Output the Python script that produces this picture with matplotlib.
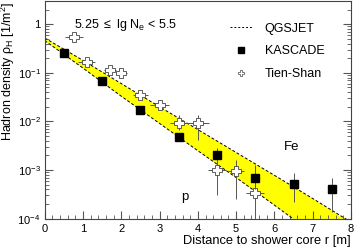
import numpy as np
import matplotlib.pyplot as plt
from matplotlib.ticker import FixedLocator, MultipleLocator, LogLocator, NullFormatter
from matplotlib.lines import Line2D

plt.rcParams['font.family'] = ['Liberation Sans', 'DejaVu Sans']
plt.rcParams['mathtext.fontset'] = 'custom'
plt.rcParams['mathtext.rm'] = 'Liberation Sans'
plt.rcParams['mathtext.it'] = 'Liberation Sans:italic'

# QGSJET band edges
r_model = [0, 1, 2, 3, 4, 5, 6, 7, 8]
rho_fe = [0.52, 0.18, 0.06, 0.02, 0.0068, 0.0023, 0.00078, 0.00026, 8.5e-5]
rho_p = [0.46, 0.125, 0.033, 0.0091, 0.0025, 0.0007, 0.00019, 5e-5, 1.4e-5]

# KASCADE
r_kas = [0.5, 1.5, 2.5, 3.5, 4.5, 5.5, 6.5, 7.5]
rho_kas = [0.25, 0.069, 0.0173, 0.0049, 0.0020, 0.00069, 0.00051, 0.00041]
kas_lo = [0.23, 0.064, 0.016, 0.0045, 0.0018, 0.0004, 0.00022, 0.000135]
kas_hi = [0.27, 0.074, 0.0186, 0.0053, 0.0028, 0.00126, 0.00085, 0.00069]

# Tien-Shan
r_ts = [0.77, 1.1, 1.7, 2.0, 2.5, 3.0, 3.5, 4.0, 4.5, 5.0, 5.5]
rho_ts = [0.55, 0.17, 0.112, 0.10, 0.035, 0.022, 0.0092, 0.0092, 0.001, 0.00095, 0.00033]
ts_lo = [0.52, 0.16, 0.105, 0.094, 0.032, 0.020, 0.0066, 0.0042, 0.0003, 0.00025, 1e-5]
ts_hi = [0.58, 0.18, 0.12, 0.107, 0.038, 0.024, 0.0135, 0.0136, 0.0025, 0.0016, 0.00060]
ts_dr = [0.23, 0.22, 0.15, 0.15, 0.2, 0.24, 0.23, 0.3, 0.24, 0.2, 0.24]

fig = plt.figure(figsize=(3.56, 2.47), dpi=100)
ax = fig.add_axes([0.1256, 0.1146, 0.8604, 0.8814])

ax.fill_between(r_model, rho_p, rho_fe, color='#ffff00', lw=0)
ax.plot(r_model, rho_fe, 'k--', lw=0.7, dashes=(3, 2))
ax.plot(r_model, rho_p, 'k--', lw=0.7, dashes=(3, 2))

ts_err = [np.array(rho_ts) - np.array(ts_lo), np.array(ts_hi) - np.array(rho_ts)]
ax.errorbar(r_ts, rho_ts, yerr=ts_err, xerr=ts_dr, fmt='none', ecolor='#555555',
            elinewidth=0.7, capsize=0)
ax.plot(r_ts, rho_ts, 'P', ms=7, mfc='white', mec='#444444', mew=0.6, ls='none')

kas_err = [np.array(rho_kas) - np.array(kas_lo), np.array(kas_hi) - np.array(rho_kas)]
ax.errorbar(r_kas, rho_kas, yerr=kas_err, fmt='none', ecolor='#555555',
            elinewidth=0.7, capsize=0)
ax.plot(r_kas, rho_kas, 's', ms=5.5, color='black', ls='none')

ax.set_yscale('log')
ax.set_xlim(0, 8)
ax.set_ylim(1e-4, 3)

ax.xaxis.set_major_locator(MultipleLocator(1))
ax.xaxis.set_minor_locator(MultipleLocator(0.2))
ax.yaxis.set_major_locator(FixedLocator([1e-4, 1e-3, 1e-2, 1e-1, 1]))
ax.set_yticklabels(['$10^{-4}$', '$10^{-3}$', '$10^{-2}$', '$10^{-1}$', '1'])
ax.yaxis.set_minor_locator(LogLocator(base=10, subs=np.arange(2, 10)))
ax.yaxis.set_minor_formatter(NullFormatter())
ax.tick_params(which='both', direction='in', right=True, labelsize=8, color='#555555')
ax.tick_params(axis='y', pad=3)
ax.tick_params(which='major', length=6)
ax.tick_params(which='minor', length=3)
for s in ax.spines.values():
    s.set_linewidth(0.8)
    s.set_color('#444444')

ax.set_xlabel('Distance to shower core r [m]', fontsize=9.3, ha='right')
ax.xaxis.set_label_coords(1.0, -0.075)
ax.set_ylabel('Hadron density ρ$_\\mathrm{H}$ [1/m$^2$]', fontsize=9, ha='right')
ax.yaxis.set_label_coords(-0.089, 0.995)

ax.text(0.77, 0.95, r'5.25 $\leq$ lg N$_\mathrm{e}$ < 5.5', fontsize=9, va='center')
ax.text(6.46, 10**-2.53, 'Fe', fontsize=9.5, ha='center', va='center')
ax.text(3.66, 10**-3.56, 'p', fontsize=9.5, ha='center', va='center')

handles = [
    Line2D([], [], color='black', ls='--', lw=0.7, dashes=(2, 2)),
    Line2D([], [], marker='s', color='black', ls='none', ms=4),
    Line2D([], [], marker='P', mfc='white', mec='#444444', mew=0.5, ls='none', ms=5),
]
ax.legend(handles, ['QGSJET', 'KASCADE', 'Tien-Shan'], loc='upper left',
          bbox_to_anchor=(0.575, 0.94), frameon=False, fontsize=9, handlelength=1.8,
          labelspacing=0.85, handletextpad=1.0, borderpad=0.2)

fig.savefig('out.png', dpi=100)
